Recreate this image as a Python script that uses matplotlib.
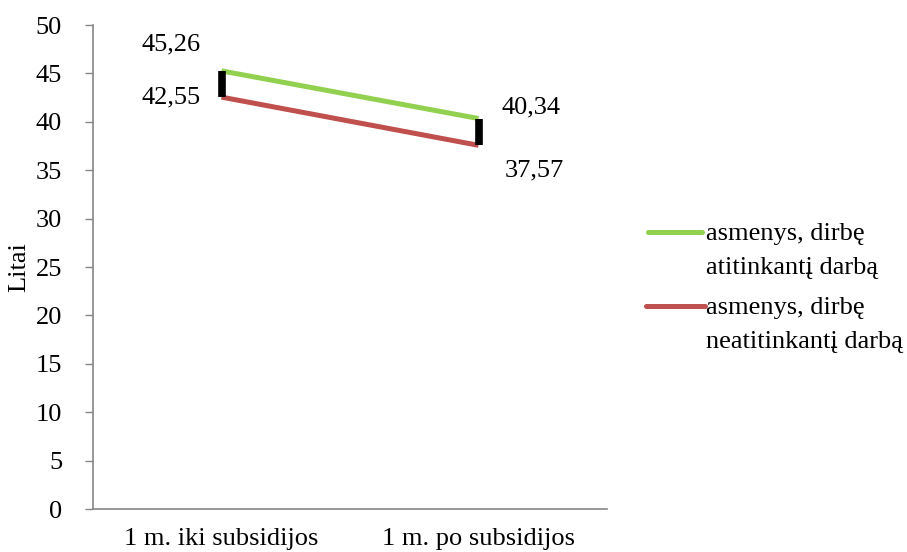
import matplotlib
matplotlib.use("Agg")
import matplotlib.pyplot as plt
from matplotlib.lines import Line2D

plt.rcParams['font.family'] = ['Liberation Serif', 'DejaVu Serif']

categories = ["1 m. iki subsidijos", "1 m. po subsidijos"]
series_names = ["asmenys, dirbę\natitinkantį darbą", "asmenys, dirbę\nneatitinkantį darbą"]
green_vals = [45.26, 40.34]
red_vals = [42.55, 37.57]
yticks = [0, 5, 10, 15, 20, 25, 30, 35, 40, 45, 50]
colors = ["#92D050", "#C0504D"]

FS = 19
fig = plt.figure(figsize=(9.07, 5.52), dpi=100)
ax = fig.add_axes([93/907, 1 - 509/552, (607-93)/907, (509-25)/552])

x = list(range(len(categories)))
for vals, c in zip([green_vals, red_vals], colors):
    ax.plot(x, vals, color=c, lw=3.6, solid_capstyle='butt', zorder=3)
ax.vlines(x, red_vals, green_vals, color="black", lw=5.5, zorder=4)

def fmt(v):
    return f"{v:.2f}".replace(".", ",")

offsets_green = [(-36, 19), (38, 8)]
offsets_red = [(-36, 0), (40, -18)]
for i in x:
    ax.annotate(fmt(green_vals[i]), (i, green_vals[i]), xytext=offsets_green[i],
                textcoords="offset points", ha="center", va="center", fontsize=FS)
    ax.annotate(fmt(red_vals[i]), (i, red_vals[i]), xytext=offsets_red[i],
                textcoords="offset points", ha="center", va="center", fontsize=FS)

ax.set_xlim(-0.5, 1.5)
ax.set_ylim(0, 50)
ax.set_yticks(yticks)
ax.set_xticks(x)
ax.set_xticklabels(categories, fontsize=FS)
ax.tick_params(axis='x', length=0, pad=13.5)
ax.tick_params(axis='y', length=5.8, width=1, color="#868686", pad=16.5, labelsize=FS)
for s in ["top", "right"]:
    ax.spines[s].set_visible(False)
for s in ["left", "bottom"]:
    ax.spines[s].set_color("#868686")
    ax.spines[s].set_linewidth(1.2)
ax.set_ylabel("Litai", fontsize=FS, labelpad=4)

# legend (handle aligned with first text line, as in the reference)
def ax_x(px):
    return (px - 93) / 514
def ax_y(py):
    return (509 - py) / 484

leg_rows = [(232, 648, 702), (306, 646, 705)]
for name, c, (yrow, x0, x1) in zip(series_names, colors, leg_rows):
    ax.add_line(Line2D([ax_x(x0), ax_x(x1)], [ax_y(yrow), ax_y(yrow)], color=c, lw=3.6,
                       transform=ax.transAxes, clip_on=False, solid_capstyle='round'))
    ax.text(ax_x(706), ax_y(yrow + 19), name, transform=ax.transAxes, fontsize=FS,
            ha="left", va="center", linespacing=1.75)

fig.savefig("out.png", dpi=100)
